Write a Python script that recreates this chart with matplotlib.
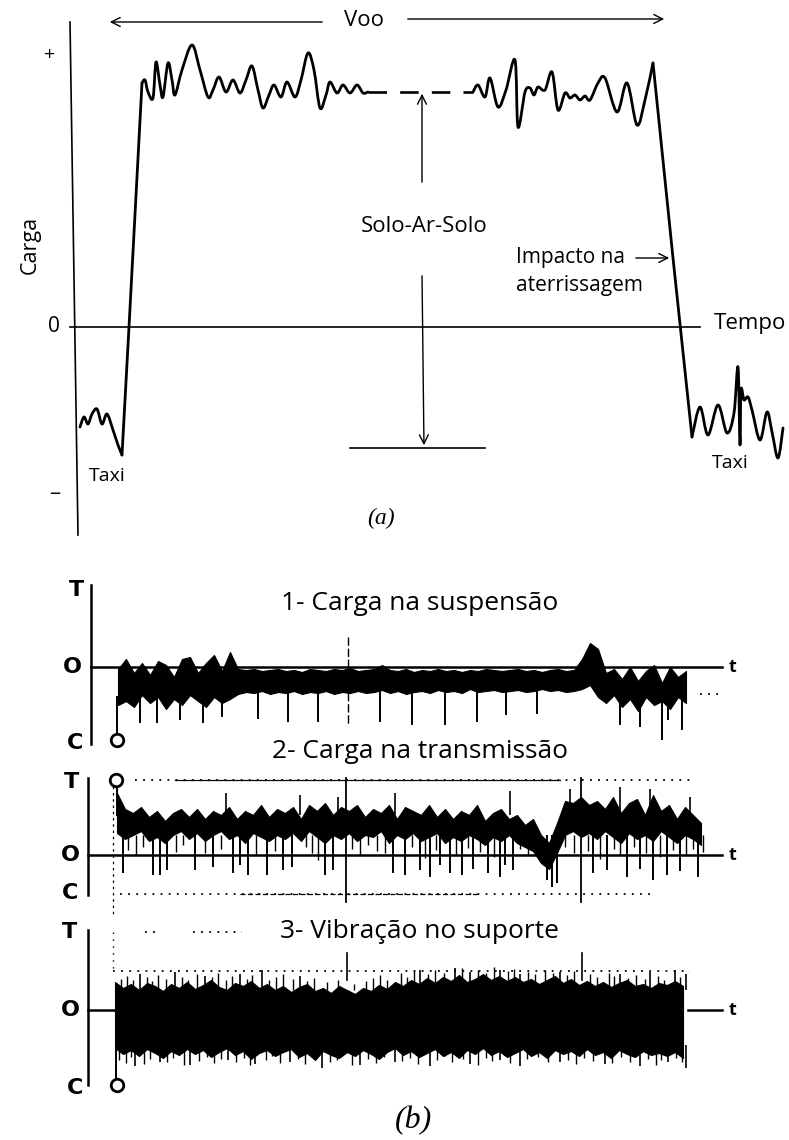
import numpy as np
import matplotlib.pyplot as plt
from matplotlib.path import Path
from matplotlib.patches import PathPatch

plt.rcParams['font.family'] = ['Open Sans', 'DejaVu Sans']

W, H = 789, 1140

# ============================================================
# 1. DATA
# ============================================================

# (a) load history: time vs load (0 = zero line)
a_time = [80, 84, 88, 92, 97, 102, 107, 113, 118, 122, 129, 142, 145, 148, 153, 156, 160, 163,
          168, 172, 175, 182, 192, 200, 208, 213, 219, 226, 233, 240, 246, 252, 258, 263, 269,
          274, 281, 287, 295, 301, 308, 314, 320, 326, 330, 337, 343, 350, 357, 363, 368]
a_load = [-100, -90, -97, -87, -82, -97, -87, -103, -118, -128, 0, 244, 247, 235, 229, 265,
          242, 230, 264, 247, 232, 257, 282, 257, 230, 237, 250, 235, 247, 234, 247, 261, 237,
          219, 232, 242, 230, 245, 230, 247, 274, 257, 219, 232, 245, 234, 242, 234, 242, 234, 235]
a_gap_time = [368, 473]
a_gap_load = [235, 235]
b_time = [473, 478, 485, 490, 498, 506, 515, 518, 525, 530, 534, 538, 545, 552, 558, 565, 570,
          575, 580, 585, 590, 598, 605, 617, 627, 637, 645, 653, 673, 692, 700, 708,
          718, 727, 734, 738, 740, 741, 744, 748, 752, 760, 767, 772, 778, 783]
b_load = [235, 242, 230, 249, 220, 237, 267, 200, 235, 239, 232, 240, 237, 255, 217, 234, 229,
          232, 227, 231, 227, 244, 249, 215, 244, 202, 227, 264, 69, -110, -80, -108,
          -78, -106, -86, -40, -118, -63, -73, -70, -83, -113, -85, -105, -131, -101]

# (b) strip 1 - carga na suspensao
s1_t = np.arange(118, 690, 8)
s1_hi = [-2, 8, -6, 4, -8, 6, 2, -10, 8, 10,
         -6, 4, 12, -4, 15, -2, -3, -2, -4, -3,
         -2, -4, -3, -5, -2, -3, -4, -2, -3, -1,
         -4, -3, -2, 2, -3, -4, -2, -5, -3, -4,
         -2, -4, -3, -5, -3, -4, -2, -3, -4, -3,
         -2, -4, -3, -5, -3, -2, -4, -3, 8, 24,
         18, -6, -2, -12, 0, -14, -4, 2, -16, 0,
         -10, -4]
s1_lo = [-38, -34, -40, -28, -36, -30, -42, -32, -38, -28,
         -34, -40, -30, -36, -32, -27, -25, -26, -24, -27,
         -25, -26, -24, -27, -25, -26, -24, -27, -25, -26,
         -24, -26, -25, -23, -26, -24, -27, -25, -24, -26,
         -23, -25, -24, -26, -22, -25, -24, -23, -25, -24,
         -23, -25, -24, -22, -24, -23, -25, -24, -22, -18,
         -30, -36, -28, -40, -32, -44, -30, -38, -34, -42,
         -30, -36]
s1_spike_t = [140, 157, 180, 203, 222, 258, 288, 318, 380, 412, 445, 477, 506, 537,
              620, 640, 662, 668, 682]
s1_spike_v = [-56, -56, -53, -56, -50, -52, -55, -55, -55, -58, -58, -55, -48, -47,
              -58, -60, -73, -53, -63]

# (b) strip 2 - carga na transmissao
s2_t = np.arange(117, 707, 8)
s2_hi = [62, 46, 42, 48, 38, 44, 34, 42, 46, 38,
         46, 36, 44, 40, 48, 36, 44, 40, 50, 38,
         46, 42, 48, 36, 50, 44, 52, 40, 48, 44,
         50, 38, 46, 42, 50, 36, 48, 44, 40, 50,
         38, 46, 36, 44, 40, 50, 34, 42, 46, 36,
         40, 30, 36, 20, 12, 32, 54, 52, 58, 50,
         54, 46, 58, 42, 52, 56, 40, 60, 44, 50,
         36, 48, 40, 32]
s2_lo = [22, 16, 20, 24, 14, 18, 12, 20, 24, 16,
         22, 14, 20, 24, 16, 20, 12, 22, 18, 14,
         20, 16, 22, 14, 24, 18, 12, 20, 16, 22,
         14, 20, 18, 24, 12, 20, 16, 22, 14, 18,
         22, 12, 18, 14, 20, 16, 10, 18, 14, 20,
         12, 8, 4, -8, -14, 2, 20, 24, 18, 22,
         16, 24, 18, 12, 22, 16, 20, 14, 24, 18,
         12, 20, 16, 10]
s2_dn_t = [123, 153, 160, 167, 195, 213, 233, 240, 248, 267, 283, 292, 325, 333, 393, 405,
           420, 430, 440, 450, 462, 473, 488, 500, 505, 513, 547, 552, 557, 593, 607, 627,
           640, 653, 667, 680, 698]
s2_dn_v = [-18, -20, -20, -15, -15, -12, -18, -10, -20, -20, -15, -12, -20, -15, -18, -20,
           -15, -22, -10, -18, -20, -14, -18, -22, -10, -15, -25, -32, -28, -18, -15, -22,
           -14, -25, -20, -16, -22]
s2_up_t = [226, 300, 338, 395, 510, 570, 620, 650, 690]
s2_up_v = [62, 60, 58, 62, 64, 66, 68, 66, 58]
s2_fine_t = [128, 136, 143, 176, 183, 205, 221, 256, 275, 306, 312, 318, 352, 360, 368,
             377, 385, 412, 425, 436, 456, 468, 480, 494, 520, 528, 565, 574, 588, 600,
             614, 620, 634, 646, 660, 673, 686, 693, 703]
s2_fine_v = [5, 0, 8, 3, 10, 2, 6, 0, 4, 8, 2, -5, 6, 0, 10,
             4, 2, 8, -3, 5, 0, 7, 3, -2, 6, 0, 8, 2, 4, -4,
             6, 0, 8, 2, -2, 5, 0, 6, 3]

# (b) strip 3 - vibracao no suporte
s3_t = np.arange(115, 689, 8)
s3_hi = [28, 22, 26, 20, 27, 24, 19, 26, 22, 28,
         21, 25, 30, 23, 20, 27, 24, 29, 22, 26,
         20, 24, 18, 23, 26, 19, 22, 17, 24, 20,
         16, 22, 19, 25, 21, 28, 24, 30, 26, 32,
         27, 33, 29, 35, 28, 31, 36, 30, 34, 29,
         33, 28, 31, 26, 30, 34, 27, 31, 25, 29,
         24, 28, 23, 27, 30, 24, 26, 22, 27, 25,
         29, 24]
s3_lo = [-38, -44, -40, -46, -39, -43, -48, -41, -45, -39,
         -44, -40, -47, -42, -38, -45, -41, -49, -43, -40,
         -46, -42, -39, -47, -43, -50, -41, -45, -48, -42,
         -46, -40, -44, -49, -42, -38, -45, -41, -47, -43,
         -39, -46, -42, -48, -40, -44, -38, -45, -41, -47,
         -43, -39, -46, -42, -48, -40, -44, -41, -46, -39,
         -45, -42, -48, -40, -44, -47, -41, -45, -43, -46,
         -42, -48]
s3_up_t = [140, 175, 205, 240, 262, 300, 420, 455, 470, 500, 520, 560, 620, 650, 675, 686]
s3_up_v = [36, 38, 34, 36, 40, 34, 40, 42, 38, 40, 36, 38, 36, 38, 40, 36]
s3_dn_t = [135, 160, 190, 228, 255, 290, 322, 360, 395, 430, 470, 500, 520, 560, 605, 640,
           668, 686]
s3_dn_v = [-56, -52, -55, -50, -54, -52, -58, -55, -52, -56, -54, -50, -56, -52, -54, -56,
           -52, -58]
# finer ragged edge of the vibration band
s3_fine_up_t = [121, 127, 133, 147, 152, 158, 166, 182, 188, 197, 212, 218, 226, 232, 247,
                252, 269, 276, 283, 293, 307, 314, 327, 338, 354, 366, 373, 380, 387, 401,
                407, 414, 428, 435, 444, 462, 478, 486, 494, 508, 514, 528, 535, 545, 553,
                567, 574, 590, 597, 609, 614, 628, 636, 645, 658, 664, 680]
s3_fine_up_v = [31, 34, 30, 33, 29, 35, 31, 33, 30, 36, 33, 37, 30, 34, 31,
                35, 30, 33, 36, 31, 29, 32, 28, 30, 26, 29, 32, 35, 30, 37,
                33, 39, 36, 40, 37, 42, 40, 37, 43, 39, 41, 38, 36, 40, 37,
                35, 39, 36, 33, 37, 34, 32, 35, 31, 34, 30, 33]
s3_fine_dn_t = [119, 126, 131, 144, 150, 167, 173, 184, 199, 207, 214, 221, 236, 244, 250,
                266, 272, 280, 298, 305, 312, 330, 337, 352, 368, 376, 384, 402, 410, 418,
                437, 445, 452, 463, 478, 486, 492, 510, 527, 538, 548, 568, 576, 584, 593,
                612, 621, 630, 648, 656, 661, 676, 682]
s3_fine_dn_v = [-50, -53, -47, -54, -49, -52, -48, -55, -51, -47, -53, -49, -52, -48, -55,
                -50, -46, -53, -49, -54, -47, -52, -50, -55, -49, -53, -47, -51, -48, -54,
                -50, -46, -52, -49, -55, -48, -51, -53, -49, -47, -52, -50, -54, -48, -51,
                -53, -47, -52, -49, -55, -50, -48, -52]

# ============================================================
# 2. FIGURE
# ============================================================

fig = plt.figure(figsize=(W / 100, H / 100), dpi=100)


def panel(top, bottom, zero):
    ax = fig.add_axes([0, 1 - bottom / H, 1, (bottom - top) / H])
    ax.set_xlim(0, W)
    ax.set_ylim(zero - bottom, zero - top)
    ax.axis('off')
    return ax


def ftext(px, py, s, **kw):
    fig.text(px / W, 1 - py / H, s, ha='center', va='center', **kw)


def smooth(ax, x, y, **kw):
    # Catmull-Rom curve through the read points (drawing only)
    p = np.column_stack([x, y]).astype(float)
    ext = np.vstack([p[0], p, p[-1]])
    verts = [p[0]]
    codes = [Path.MOVETO]
    for i in range(1, len(ext) - 2):
        c1 = ext[i] + (ext[i + 1] - ext[i - 1]) / 6
        c2 = ext[i + 1] - (ext[i + 2] - ext[i]) / 6
        verts += [c1, c2, ext[i + 1]]
        codes += [Path.CURVE4] * 3
    ax.add_patch(PathPatch(Path(verts, codes), fill=False, **kw))


# ---- (a) ----
ax = panel(0, 545, 327)
ax.plot([70, 78], [305, -208], color='black', lw=1.2)
ax.plot([70, 700], [0, 0], color='black', lw=1.2)
curve = dict(edgecolor='black', lw=2.0, joinstyle='round', capstyle='round')
# taxi, straight climb, flight, straight descent, taxi
smooth(ax, a_time[:10], a_load[:10], **curve)
ax.plot(a_time[9:12], a_load[9:12], color='black', lw=2.0, solid_capstyle='round')
smooth(ax, a_time[11:], a_load[11:], **curve)
ax.plot(a_gap_time, a_gap_load, color='black', lw=1.9, dashes=(7, 5))
smooth(ax, b_time[:28], b_load[:28], **curve)
ax.plot(b_time[27:30], b_load[27:30], color='black', lw=2.0, solid_capstyle='round')
smooth(ax, b_time[29:], b_load[29:], **curve)

arr = dict(arrowstyle='->', color='black', lw=1.0, mutation_scale=16)
ax.annotate('', xy=(107, 305), xytext=(325, 305), arrowprops=arr)
ax.annotate('', xy=(667, 308), xytext=(405, 308), arrowprops=arr)
ax.text(364, 307, 'Voo', ha='center', va='center', fontsize=16)

ax.annotate('', xy=(422, 236), xytext=(422, 142), arrowprops=arr)
ax.annotate('', xy=(424, -121), xytext=(422, 54), arrowprops=arr)
ax.plot([350, 485], [-121, -121], color='black', lw=1.2)
ax.text(424, 100, 'Solo-Ar-Solo', ha='center', va='center', fontsize=16)

ax.annotate('', xy=(672, 69), xytext=(633, 69), arrowprops=arr)
ax.text(516, 69, 'Impacto na', ha='left', va='center', fontsize=15)
ax.text(516, 41, 'aterrissagem', ha='left', va='center', fontsize=15)

ax.text(714, 3, 'Tempo', ha='left', va='center', fontsize=16)
ax.text(54, 0, '0', ha='center', va='center', fontsize=15)
ax.text(50, 272, '+', ha='center', va='center', fontsize=14)
ax.text(55, -166, '\u2013', ha='center', va='center', fontsize=16)
ax.text(30, 82, 'Carga', ha='center', va='center', fontsize=15.5, rotation=90)
ax.text(107, -149, 'Taxi', ha='center', va='center', fontsize=14)
ax.text(730, -136, 'Taxi', ha='center', va='center', fontsize=14)
ax.text(381, -191, '(a)', ha='center', va='center', fontsize=17,
        family='Liberation Serif', style='italic')

lab = dict(ha='center', va='center', fontsize=16, fontweight='bold', family='DejaVu Sans')
tlab = dict(ha='center', va='center', fontsize=13, fontweight='bold')
dot = dict(color='black', lw=1.3, linestyle=(0, (1, 3.5)))

# ---- (b) strip 1 ----
ax1 = panel(575, 760, 667)
ax1.plot([91, 91], [82, -77], color='black', lw=1.8)
ax1.text(77, 77, 'T', **lab)
ax1.text(72, 0, 'O', **lab)
ax1.text(75, -76, 'C', **lab)
ax1.plot([91, 722], [0, 0], color='black', lw=1.8)
ax1.text(733, 0, 't', **tlab)
ax1.plot([700, 722], [-27, -27], **dot)
ax1.fill_between(s1_t, s1_lo, s1_hi, color='black', lw=0.8)
ax1.vlines(s1_spike_t, -20, s1_spike_v, color='black', lw=1.4)
ax1.plot([348, 348], [30, -58], color='black', lw=1.0, dashes=(6, 2))
ax1.plot([117, 117], [-67, -30], color='black', lw=1.4)
ax1.plot([117], [-73], marker='o', ms=9, mfc='white', mec='black', mew=2)

# ---- (b) strip 2 ----
ax2 = panel(760, 917, 855)
ax2.plot([88, 88], [77, -40], color='black', lw=1.8)
ax2.text(72, 73, 'T', **lab)
ax2.text(70, 0, 'O', **lab)
ax2.text(70, -38, 'C', **lab)
ax2.plot([88, 722], [0, 0], color='black', lw=1.8)
ax2.text(733, 0, 't', **tlab)
ax2.plot([135, 690], [75, 75], **dot)
ax2.plot([175, 560], [75, 75], color='black', lw=0.9)
ax2.plot([120, 650], [-39, -39], **dot)
ax2.plot([240, 480], [-39, -39], color='black', lw=0.9, dashes=(4, 2))
ax2.plot([113, 113], [75, -60], color='black', lw=0.9, dashes=(2, 3))
ax2.plot([346, 346], [77, -47], color='black', lw=1.3)
ax2.plot([581, 581], [77, -47], color='black', lw=1.3)
ax2.fill_between(s2_t, s2_lo, s2_hi, color='black', lw=0.8)
ax2.vlines(s2_dn_t, 20, s2_dn_v, color='black', lw=1.4)
ax2.vlines(s2_fine_t, 20, s2_fine_v, color='black', lw=1.0)
ax2.vlines(s2_up_t, 40, s2_up_v, color='black', lw=1.2)
ax2.plot([117, 117], [69, 40], color='black', lw=1.4)
ax2.plot([116], [75], marker='o', ms=9, mfc='white', mec='black', mew=2)

# ---- (b) strip 3 ----
ax3 = panel(917, 1100, 1010)
ax3.plot([88, 88], [80, -75], color='black', lw=1.8)
ax3.text(70, 78, 'T', **lab)
ax3.text(70, 0, 'O', **lab)
ax3.text(75, -78, 'C', **lab)
ax3.plot([88, 115], [0, 0], color='black', lw=1.8)
ax3.plot([688, 722], [0, 0], color='black', lw=1.8)
ax3.text(733, 0, 't', **tlab)
ax3.plot([113, 690], [39, 39], **dot)
ax3.plot([113, 113], [78, 39], color='black', lw=1.0, linestyle=(0, (1, 4)))
ax3.plot([145, 160], [78, 78], **dot)
ax3.plot([193, 242], [78, 78], **dot)
ax3.plot([347, 347], [57, 30], color='black', lw=1.2)
ax3.plot([582, 582], [57, 30], color='black', lw=1.2)
ax3.fill_between(s3_t, s3_lo, s3_hi, color='black', lw=0.8)
ax3.vlines(s3_up_t, 20, s3_up_v, color='black', lw=1.2)
ax3.vlines(s3_dn_t, -35, s3_dn_v, color='black', lw=1.2)
ax3.vlines(s3_fine_up_t, 20, s3_fine_up_v, color='black', lw=1.0)
ax3.vlines(s3_fine_dn_t, -35, s3_fine_dn_v, color='black', lw=1.0)
ax3.plot([116, 116], [-69, -40], color='black', lw=1.4)
ax3.plot([117], [-75], marker='o', ms=9, mfc='white', mec='black', mew=2)

# ---- titles ----
ftext(420, 604, '1- Carga na suspensão', fontsize=19)
ftext(420, 752, '2- Carga na transmissão', fontsize=19)
ftext(420, 932, '3- Vibração no suporte', fontsize=19)
ftext(413, 1121, '(b)', fontsize=23, family='Liberation Serif', style='italic')

fig.savefig('out.png', dpi=100, facecolor='white')
